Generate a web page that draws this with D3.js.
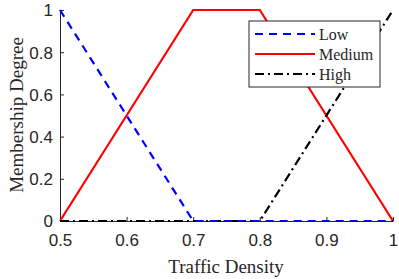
<!DOCTYPE html>
<html><head><meta charset="utf-8">
<script src="https://cdn.jsdelivr.net/npm/d3@7"></script>
<style>body{margin:0;background:#fff;} svg{display:block;}</style>
</head><body>
<svg id="c" width="399" height="279"></svg>
<script>
const xTicks = [0.5, 0.6, 0.7, 0.8, 0.9, 1];
const yTicks = [0, 0.2, 0.4, 0.6, 0.8, 1];
const seriesNames = ["Low", "Medium", "High"];
const lowX = [0.5, 0.7, 1.0];
const lowY = [1, 0, 0];
const mediumX = [0.5, 0.7, 0.8, 1.0];
const mediumY = [0, 1, 1, 0];
const highX = [0.5, 0.8, 1.0];
const highY = [0, 0, 1];

const svg = d3.select("#c");
const x = d3.scaleLinear().domain([0.5, 1]).range([60, 393]);
const y = d3.scaleLinear().domain([0, 1]).range([221, 10]);
const axisCol = "#262626";
const tickFont = "'Liberation Sans', Arial, sans-serif";
const serif = "'Liberation Serif', 'Times New Roman', serif";

const fmt = d => d === 0 ? "0" : d === 1 ? "1" : d3.format(".1f")(d);

const gx = svg.append("g").attr("transform", "translate(0,221)")
  .call(d3.axisBottom(x).tickValues(xTicks).tickFormat(fmt).tickSizeInner(-4).tickSizeOuter(0).tickPadding(13));
const gy = svg.append("g").attr("transform", "translate(60,0)")
  .call(d3.axisLeft(y).tickValues(yTicks).tickFormat(fmt).tickSizeInner(-4).tickSizeOuter(0).tickPadding(7));
[gx, gy].forEach(g => {
  g.select(".domain").attr("stroke", axisCol).attr("stroke-width", 1);
  g.selectAll(".tick line").attr("stroke", axisCol);
  g.selectAll(".tick text").attr("fill", axisCol).style("font-family", tickFont).style("font-size", "17px");
});
gx.selectAll(".tick text").attr("dy", "0.71em");
gy.selectAll(".tick text").attr("dy", "0.35em");

const line = d3.line().x(d => x(d[0])).y(d => y(d[1]));
const series = [
  {name: seriesNames[0], xs: lowX, ys: lowY, color: "#0000ff", dash: "8,6"},
  {name: seriesNames[1], xs: mediumX, ys: mediumY, color: "#ff0000", dash: null},
  {name: seriesNames[2], xs: highX, ys: highY, color: "#000000", dash: "9,4,2,4"}
];
[series[1], series[2], series[0]].forEach(s => {
  svg.append("path").datum(s.xs.map((v, i) => [v, s.ys[i]]))
    .attr("d", line).attr("fill", "none").attr("stroke", s.color)
    .attr("stroke-width", 2.2).attr("stroke-dasharray", s.dash);
});

const lg = svg.append("g");
lg.append("rect").attr("x", 249).attr("y", 21).attr("width", 131).attr("height", 66)
  .attr("fill", "#fff").attr("stroke", axisCol).attr("stroke-width", 1);
series.forEach((s, i) => {
  const yy = 34 + i * 20;
  lg.append("line").attr("x1", 255).attr("x2", 315).attr("y1", yy).attr("y2", yy)
    .attr("stroke", s.color).attr("stroke-width", 2.2).attr("stroke-dasharray", s.dash);
  lg.append("text").attr("x", 319).attr("y", yy).attr("dy", "0.35em")
    .style("font-family", serif).style("font-size", "16px").attr("fill", axisCol).text(s.name);
});

svg.append("text").attr("x", 226).attr("y", 273).attr("text-anchor", "middle")
  .style("font-family", serif).style("font-size", "19px").attr("fill", axisCol).text("Traffic Density");
svg.append("text").attr("transform", "translate(23,115) rotate(-90)").attr("text-anchor", "middle")
  .style("font-family", serif).style("font-size", "19px").attr("fill", axisCol).text("Membership Degree");
</script>
</body></html>
